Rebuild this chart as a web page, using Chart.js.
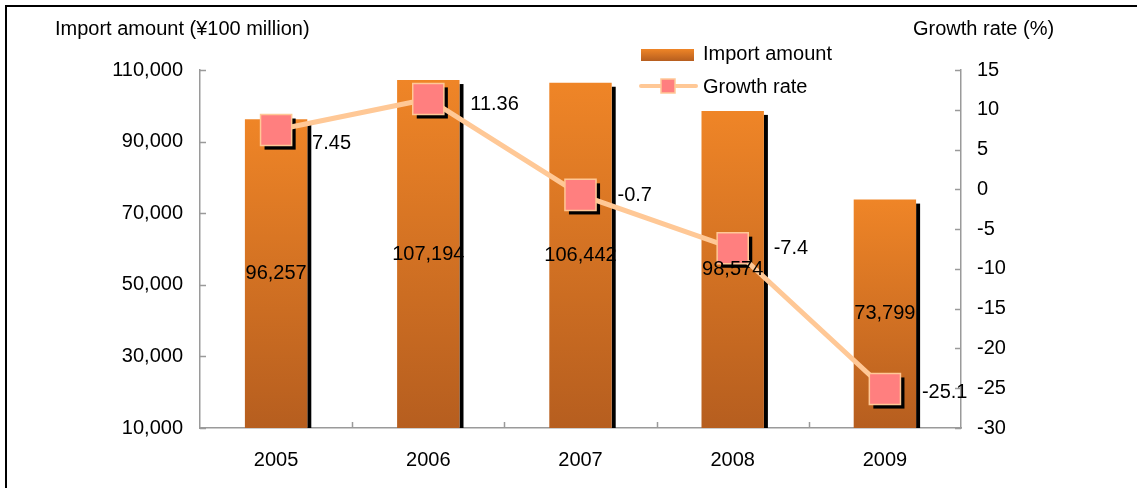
<!DOCTYPE html>
<html>
<head>
<meta charset="utf-8">
<script src="https://cdn.jsdelivr.net/npm/chart.js@4.4.1/dist/chart.umd.min.js"></script>
<style>
  html, body { margin: 0; padding: 0; background: #fff; }
  #wrap { width: 1137px; height: 488px; }
</style>
</head>
<body>
<div id="wrap"><canvas id="chart" width="1137" height="488"></canvas></div>
<script>
// import data by year
const years = ['2005', '2006', '2007', '2008', '2009'];
const importAmount = [96257, 107194, 106442, 98574, 73799];
const growthRate = [7.45, 11.36, -0.7, -7.4, -25.1];

const leftTitle = 'Import amount (¥100 million)';
const rightTitle = 'Growth rate (%)';

const FONT = "'Liberation Sans', Arial, sans-serif";
const LINE_COLOR = '#FFC896';
const MARKER_COLOR = '#FF7F7F';
const AXIS_COLOR = '#9a9a9a';

// where each growth label sits relative to its marker (text left edge / vertical centre)
const rateLabelDx = [36, 42, 37, 41, 37];
const rateLabelDy = [13, 6, 1, 0, 3];

function barGradient(ctx, top, bottom) {
  const g = ctx.createLinearGradient(0, top, 0, bottom);
  g.addColorStop(0, '#EF8527');
  g.addColorStop(1, '#B65E1F');
  return g;
}

// axis min is above zero, so the bar base sits below the plot; clamp it
function barBottom(chart, bar) {
  return Math.min(bar.base, chart.chartArea.bottom);
}

const decorations = {
  id: 'decorations',
  beforeDraw(chart) {
    const ctx = chart.ctx;
    ctx.save();
    ctx.strokeStyle = '#000';
    ctx.lineWidth = 2;
    ctx.beginPath();
    ctx.moveTo(6, chart.height);
    ctx.lineTo(6, 6);
    ctx.lineTo(chart.width, 6);
    ctx.stroke();
    ctx.restore();
  },
  beforeDatasetDraw(chart, args) {
    const ctx = chart.ctx;
    const meta = args.meta;
    ctx.save();
    ctx.fillStyle = '#000';
    if (meta.type === 'bar') {
      // thin black edge on the right of each bar
      meta.data.forEach(bar => {
        const right = bar.x + bar.width / 2;
        ctx.fillRect(right, bar.y + 4, 4, barBottom(chart, bar) - bar.y - 4);
      });
    } else if (meta.type === 'line') {
      // drop shadow under each square marker
      const r = chart.data.datasets[args.index].pointRadius;
      const s = r * Math.SQRT1_2;
      meta.data.forEach(pt => {
        ctx.fillRect(pt.x - s + 4, pt.y - s + 4, 2 * s, 2 * s);
      });
    }
    ctx.restore();
  },
  afterDatasetsDraw(chart) {
    const ctx = chart.ctx;
    const area = chart.chartArea;
    const yL = chart.scales.y;
    const yR = chart.scales.y1;
    const x = chart.scales.x;
    ctx.save();

    // inward tick marks
    ctx.strokeStyle = AXIS_COLOR;
    ctx.lineWidth = 1.5;
    ctx.beginPath();
    yL.ticks.forEach(t => {
      const py = Math.round(yL.getPixelForValue(t.value)) + 0.5;
      ctx.moveTo(area.left, py);
      ctx.lineTo(area.left + 6, py);
    });
    yR.ticks.forEach(t => {
      const py = Math.round(yR.getPixelForValue(t.value)) + 0.5;
      ctx.moveTo(area.right, py);
      ctx.lineTo(area.right - 6, py);
    });
    for (let i = 1; i < years.length; i++) {
      const px = Math.round((x.getPixelForValue(i - 1) + x.getPixelForValue(i)) / 2) + 0.5;
      ctx.moveTo(px, area.bottom);
      ctx.lineTo(px, area.bottom - 6);
    }
    ctx.stroke();

    // value labels
    ctx.fillStyle = '#000';
    ctx.font = '20px ' + FONT;
    ctx.textBaseline = 'middle';
    ctx.textAlign = 'center';
    chart.getDatasetMeta(0).data.forEach((bar, i) => {
      ctx.fillText(importAmount[i].toLocaleString('en-US'), bar.x, (bar.y + barBottom(chart, bar)) / 2);
    });
    ctx.textAlign = 'left';
    chart.getDatasetMeta(1).data.forEach((pt, i) => {
      ctx.fillText(String(growthRate[i]), pt.x + rateLabelDx[i], pt.y + rateLabelDy[i]);
    });

    // axis titles
    ctx.fillText(leftTitle, 55, 29);
    ctx.fillText(rightTitle, 913, 29);

    // legend
    ctx.fillStyle = barGradient(ctx, 49, 61);
    ctx.fillRect(641, 49, 53, 12);
    ctx.strokeStyle = LINE_COLOR;
    ctx.lineWidth = 4;
    ctx.lineCap = 'round';
    ctx.beginPath();
    ctx.moveTo(641, 86);
    ctx.lineTo(696, 86);
    ctx.stroke();
    ctx.fillStyle = MARKER_COLOR;
    ctx.fillRect(661, 79, 14, 14);
    ctx.lineWidth = 1.5;
    ctx.strokeRect(661, 79, 14, 14);
    ctx.fillStyle = '#000';
    ctx.fillText(chart.data.datasets[0].label, 703, 54);
    ctx.fillText(chart.data.datasets[1].label, 703, 87);

    ctx.restore();
  }
};

new Chart(document.getElementById('chart'), {
  data: {
    labels: years,
    datasets: [
      {
        type: 'bar',
        label: 'Import amount',
        data: importAmount,
        yAxisID: 'y',
        order: 2,
        backgroundColor(c) {
          const chart = c.chart;
          if (!chart.chartArea || c.raw === undefined) return '#E07A22';
          const top = chart.scales.y.getPixelForValue(c.raw);
          return barGradient(chart.ctx, top, chart.chartArea.bottom);
        },
        borderWidth: 0,
        barPercentage: 0.41,
        categoryPercentage: 1
      },
      {
        type: 'line',
        label: 'Growth rate',
        data: growthRate,
        yAxisID: 'y1',
        order: 1,
        borderColor: LINE_COLOR,
        borderWidth: 5,
        pointStyle: 'rect',
        pointRadius: 22,
        pointHoverRadius: 22,
        pointBackgroundColor: MARKER_COLOR,
        pointBorderColor: LINE_COLOR,
        pointBorderWidth: 1.5,
        tension: 0
      }
    ]
  },
  options: {
    responsive: false,
    animation: false,
    events: [],
    layout: { padding: { top: 70, left: 0, right: 0, bottom: 0 } },
    plugins: {
      legend: { display: false },
      tooltip: { enabled: false }
    },
    scales: {
      x: {
        grid: { display: false, drawTicks: false },
        border: { color: AXIS_COLOR, width: 1.5 },
        ticks: { color: '#000', font: { family: FONT, size: 20 }, padding: 20 },
        afterFit(s) { s.height = 60; }
      },
      y: {
        position: 'left',
        min: 10000,
        max: 110000,
        grid: { display: false, drawTicks: false },
        border: { color: AXIS_COLOR, width: 1.5 },
        ticks: {
          stepSize: 20000,
          color: '#000',
          font: { family: FONT, size: 20 },
          padding: 17,
          callback: v => v.toLocaleString('en-US')
        },
        afterFit(s) { s.width = 200; }
      },
      y1: {
        position: 'right',
        min: -30,
        max: 15,
        grid: { display: false, drawTicks: false },
        border: { color: AXIS_COLOR, width: 1.5 },
        ticks: { stepSize: 5, color: '#000', font: { family: FONT, size: 20 }, padding: 16 },
        afterFit(s) { s.width = 176; }
      }
    }
  },
  plugins: [decorations]
});
</script>
</body>
</html>
